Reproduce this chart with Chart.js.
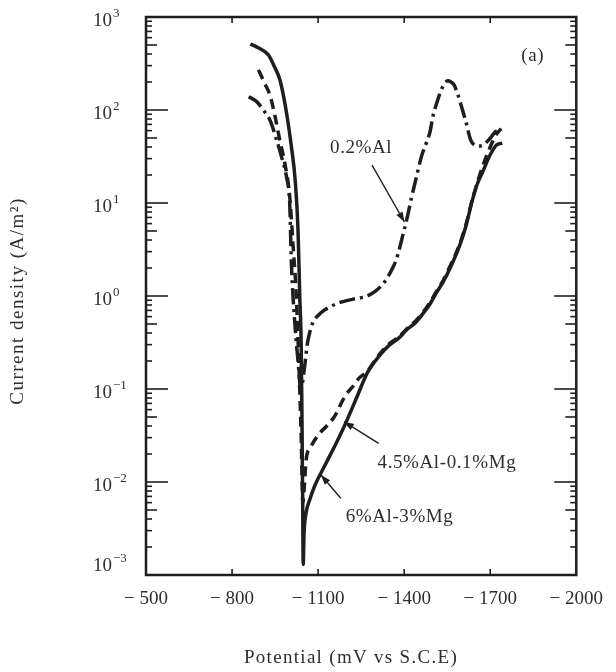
<!DOCTYPE html>
<html>
<head>
<meta charset="utf-8">
<script src="https://cdn.jsdelivr.net/npm/chart.js@4.4.1/dist/chart.umd.min.js"></script>
<style>
html, body { margin: 0; padding: 0; background: #fff; }
#wrap { width: 616px; height: 672px; }
</style>
</head>
<body>
<div id="wrap"><canvas id="polChart" width="616" height="672"></canvas></div>
<script>
// tick labels
const potentialTicks = [-500, -800, -1100, -1400, -1700, -2000];
const decadeExponents = [-3, -2, -1, 0, 1, 2, 3];

// 0.2%Al (dash-dot)
const al02Potential = [-858, -886, -909, -932, -955, -972, -990, -1001, -1007, -1018, -1030, -1040,
    -1053, -1062, -1070, -1081, -1110, -1144, -1180, -1219, -1250, -1271, -1300, -1328, -1350, -1362,
    -1374, -1397, -1413, -1425, -1443, -1460, -1477, -1490, -1500, -1517, -1529, -1542, -1552, -1563,
    -1574, -1586, -1597, -1615, -1632, -1645, -1660, -1675, -1689, -1705, -1718, -1741];
const al02Current = [139, 123, 100, 78, 48, 31.7, 19, 9.9, 2.2, 0.55, 0.2, 0.1,
    0.174, 0.3, 0.397, 0.509, 0.66, 0.77, 0.86, 0.92, 0.96, 1.0, 1.13, 1.37, 1.75, 2.06,
    2.54, 4.72, 7.5, 11.2, 19.2, 31.5, 44, 58, 85, 128, 164, 195, 206, 200,
    186, 150, 117, 75, 47.5, 42, 41, 42, 45.7, 52, 58.5, 61];

// 4.5%Al-0.1%Mg (dashed)
const al45Potential = [-892, -915, -932, -950, -966, -984, -1001, -1013, -1024, -1034, -1041, -1047,
    -1052, -1058, -1075, -1104, -1130, -1156, -1196, -1225, -1242, -1271, -1316, -1350, -1380, -1408,
    -1440, -1466, -1490, -1511, -1535, -1557, -1592, -1615, -1638, -1655, -1672, -1700, -1722, -1738];
const al45Current = [270, 190, 145, 85, 48, 26.7, 11.7, 3.4, 1.0, 0.15, 0.03, 0.006,
    0.009, 0.017, 0.024, 0.033, 0.04, 0.05, 0.086, 0.11, 0.13, 0.155, 0.24, 0.31, 0.36, 0.44,
    0.54, 0.67, 0.85, 1.1, 1.45, 2.0, 3.5, 5.8, 11, 16.5, 24, 40, 55, 63];

// 6%Al-3%Mg (solid)
const al6Potential = [-864, -896, -927, -947, -967, -990, -1007, -1020, -1030, -1036, -1041, -1044, -1046, -1048,
    -1051, -1058, -1072, -1087, -1127, -1160, -1190, -1236, -1271, -1316, -1350, -1380, -1408, -1440,
    -1466, -1490, -1511, -1535, -1557, -1592, -1615, -1638, -1655, -1672, -1700, -1722, -1742];
const al6Current = [513, 458, 390, 295, 210, 93, 40, 17.7, 5.1, 1.0, 0.3, 0.04, 0.008, 0.0013,
    0.0028, 0.0046, 0.0066, 0.0089, 0.0158, 0.025, 0.039, 0.083, 0.148, 0.232, 0.3, 0.35, 0.43, 0.52,
    0.65, 0.82, 1.07, 1.4, 1.9, 3.4, 5.6, 10.8, 16, 21, 33, 42, 44];

const ink = '#1e1e1e';
const textColor = '#2e2e2e';
const serif = '"Liberation Serif", "DejaVu Serif", serif';

// annotation texts and arrows, in data units (mV, A/m2)
const notes = [
    { text: '0.2%Al', at: [-1250, 39], from: [-1288, 25.6], to: [-1401, 6.25] },
    { text: '4.5%Al-0.1%Mg', at: [-1549, 0.016], from: [-1311, 0.026], to: [-1190, 0.0445] },
    { text: '6%Al-3%Mg', at: [-1384, 0.0042], from: [-1179, 0.0067], to: [-1110, 0.0119] },
    { text: '(a)', at: [-1848, 380] }
];

const toPoints = (xs, ys) => xs.map((x, i) => ({ x, y: ys[i] }));

const line = (ctx, x1, y1, x2, y2) => {
    ctx.beginPath();
    ctx.moveTo(x1, y1);
    ctx.lineTo(x2, y2);
    ctx.stroke();
};

const arrow = (ctx, x1, y1, x2, y2) => {
    line(ctx, x1, y1, x2, y2);
    const ang = Math.atan2(y2 - y1, x2 - x1);
    const len = 10, half = 3.5;
    ctx.beginPath();
    ctx.moveTo(x2, y2);
    ctx.lineTo(x2 - len * Math.cos(ang) + half * Math.sin(ang), y2 - len * Math.sin(ang) - half * Math.cos(ang));
    ctx.lineTo(x2 - len * Math.cos(ang) - half * Math.sin(ang), y2 - len * Math.sin(ang) + half * Math.cos(ang));
    ctx.closePath();
    ctx.fill();
};

const decorPlugin = {
    id: 'decor',
    afterDraw(chart) {
        const { ctx, chartArea: a, scales: { x, y } } = chart;
        ctx.save();
        ctx.strokeStyle = ink;
        ctx.fillStyle = ink;

        // frame
        ctx.lineWidth = 2.5;
        ctx.strokeRect(a.left, a.top, a.right - a.left, a.bottom - a.top);

        // inward ticks, left and right
        ctx.lineWidth = 1.6;
        decadeExponents.forEach((e) => {
            for (let m = 1; m <= 9; m++) {
                if (e === 3 && m > 1) break;
                const py = y.getPixelForValue(m * Math.pow(10, e));
                const len = m === 1 ? 22 : (m === 5 ? 11 : 6);
                line(ctx, a.left, py, a.left + len, py);
                line(ctx, a.right, py, a.right - len, py);
            }
        });
        // inward ticks, top and bottom
        potentialTicks.slice(1, -1).forEach((v) => {
            const px = x.getPixelForValue(v);
            line(ctx, px, a.bottom, px, a.bottom - 6);
            line(ctx, px, a.top, px, a.top + 6);
        });

        // y tick labels 10^n
        ctx.fillStyle = textColor;
        ctx.textBaseline = 'middle';
        ctx.textAlign = 'left';
        decadeExponents.forEach((e) => {
            const py = y.getPixelForValue(Math.pow(10, e)) + (e === -3 ? -9 : 4);
            ctx.font = `19px ${serif}`;
            ctx.fillText('10', 93, py);
            const w = ctx.measureText('10').width;
            ctx.font = `13px ${serif}`;
            ctx.fillText(e < 0 ? '\u2212' + Math.abs(e) : String(e), 93 + w + 1, py - 7);
        });

        // axis titles
        ctx.font = `19px ${serif}`;
        ctx.textAlign = 'center';
        ctx.letterSpacing = '1.3px';
        ctx.fillText('Potential (mV vs S.C.E)', 351, 658);
        ctx.save();
        ctx.translate(18, 301);
        ctx.rotate(-Math.PI / 2);
        ctx.letterSpacing = '1.5px';
        ctx.fillText('Current density (A/m\u00b2)', 0, 0);
        ctx.restore();

        // annotations
        ctx.letterSpacing = '0.6px';
        notes.forEach((n) => {
            ctx.fillStyle = textColor;
            ctx.fillText(n.text, x.getPixelForValue(n.at[0]), y.getPixelForValue(n.at[1]));
            if (n.from) {
                ctx.strokeStyle = ink;
                ctx.fillStyle = ink;
                ctx.lineWidth = 1.4;
                arrow(ctx, x.getPixelForValue(n.from[0]), y.getPixelForValue(n.from[1]),
                    x.getPixelForValue(n.to[0]), y.getPixelForValue(n.to[1]));
            }
        });
        ctx.restore();
    }
};

const baseLine = {
    pointRadius: 0,
    borderWidth: 3.5,
    borderColor: ink,
    fill: false,
    cubicInterpolationMode: 'monotone'
};

new Chart(document.getElementById('polChart'), {
    type: 'line',
    data: {
        datasets: [
            { ...baseLine, label: '0.2%Al', data: toPoints(al02Potential, al02Current), borderDash: [16, 5, 3, 5] },
            { ...baseLine, label: '4.5%Al-0.1%Mg', data: toPoints(al45Potential, al45Current), borderDash: [10, 6] },
            { ...baseLine, label: '6%Al-3%Mg', data: toPoints(al6Potential, al6Current) }
        ]
    },
    options: {
        responsive: false,
        devicePixelRatio: 1,
        animation: false,
        layout: { padding: { top: 17, right: 34, left: 0, bottom: 0 } },
        plugins: {
            legend: { display: false },
            tooltip: { enabled: false }
        },
        scales: {
            x: {
                type: 'linear',
                min: -2000,
                max: -500,
                reverse: true,
                grid: { display: false, drawTicks: false },
                border: { display: false },
                afterBuildTicks: (scale) => {
                    scale.ticks = potentialTicks.map((value) => ({ value }));
                },
                afterFit: (scale) => { scale.height = 97; },
                ticks: {
                    autoSkip: false,
                    maxRotation: 0,
                    padding: 13,
                    color: textColor,
                    font: { family: serif, size: 19 },
                    callback: (v) => '\u2212 ' + Math.abs(v)
                }
            },
            y: {
                type: 'logarithmic',
                min: 1e-3,
                max: 1e3,
                grid: { display: false, drawTicks: false },
                border: { display: false },
                ticks: { display: false },
                afterFit: (scale) => { scale.width = 146; }
            }
        }
    },
    plugins: [decorPlugin]
});
</script>
</body>
</html>
